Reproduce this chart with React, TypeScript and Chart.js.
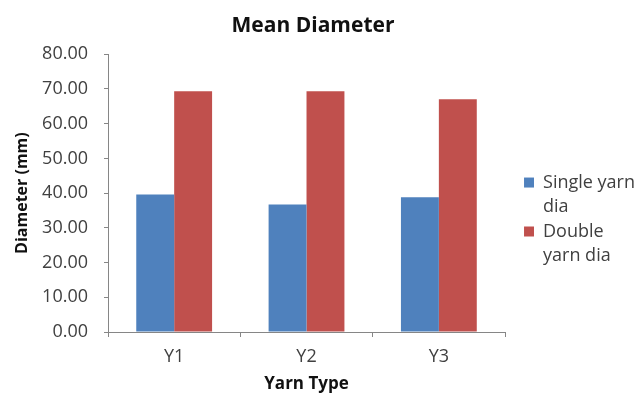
import { useEffect, useRef } from 'react';
import { Chart, registerables } from 'chart.js';

Chart.register(...registerables);

const categories = ['Y1', 'Y2', 'Y3'];
const singleYarnDia = [39.6, 36.7, 38.8];
const doubleYarnDia = [69.3, 69.3, 67.0];
const singleLabel = ['Single yarn', 'dia'];
const doubleLabel = ['Double', 'yarn dia'];
const chartTitle = 'Mean Diameter';
const xTitle = 'Yarn Type';
const yTitle = 'Diameter (mm)';
const yMin = 0;
const yMax = 80;
const yStep = 10;

const FONT = "'Open Sans', sans-serif";
const AXIS_COLOR = '#868686';
const TICK_COLOR = '#404040';

const legendShift = {
  id: 'legendShift',
  afterLayout(chart: any) {
    const l = chart.legend;
    if (!l) return;
    const dx = 19;
    const dy = 24;
    l.left += dx;
    l.right += dx;
    l.top += dy;
    l.bottom += dy;
  },
};

export default function App() {
  const ref = useRef<HTMLCanvasElement>(null);

  useEffect(() => {
    document.body.style.margin = '0';
    const chart = new Chart(ref.current as HTMLCanvasElement, {
      type: 'bar',
      data: {
        labels: categories,
        datasets: [
          {
            label: singleLabel as any,
            data: singleYarnDia,
            backgroundColor: '#4F81BD',
            borderWidth: 0,
            categoryPercentage: 0.573,
            barPercentage: 1,
          },
          {
            label: doubleLabel as any,
            data: doubleYarnDia,
            backgroundColor: '#C0504D',
            borderWidth: 0,
            categoryPercentage: 0.573,
            barPercentage: 1,
          },
        ],
      },
      options: {
        responsive: false,
        animation: false,
        devicePixelRatio: 1,
        layout: { padding: { left: 0, right: 13, top: 0, bottom: 0 } },
        plugins: {
          title: {
            display: true,
            text: chartTitle,
            color: '#111',
            font: { family: FONT, size: 21, weight: 'bold', lineHeight: 1.2 },
            padding: { top: 13, bottom: 16 },
          },
          legend: {
            display: true,
            position: 'right',
            align: 'center',
            labels: {
              boxWidth: 10,
              boxHeight: 10,
              padding: 0,
              color: TICK_COLOR,
              font: { family: FONT, size: 18, lineHeight: 1.36 },
            },
          },
          tooltip: { enabled: false },
        },
        scales: {
          x: {
            afterFit: (s: any) => {
              s.height = 65;
            },
            grid: {
              display: true,
              drawOnChartArea: false,
              drawTicks: true,
              tickLength: 5,
              color: AXIS_COLOR,
              offset: true,
            },
            border: { display: true, color: AXIS_COLOR, width: 1 },
            ticks: {
              color: TICK_COLOR,
              padding: 9,
              font: { family: FONT, size: 18 },
            },
            title: {
              display: true,
              text: xTitle,
              color: '#111',
              font: { family: FONT, size: 17, weight: 'bold', lineHeight: 1.2 },
              padding: { top: 0, bottom: 3 },
            },
          },
          y: {
            min: yMin,
            max: yMax,
            afterFit: (s: any) => {
              s.width = 108;
            },
            grid: {
              display: true,
              drawOnChartArea: false,
              drawTicks: true,
              tickLength: 4,
              color: AXIS_COLOR,
            },
            border: { display: true, color: AXIS_COLOR, width: 1 },
            ticks: {
              stepSize: yStep,
              color: TICK_COLOR,
              padding: 16,
              font: { family: FONT, size: 18 },
              callback: (v: any) => Number(v).toFixed(2),
            },
            title: {
              display: true,
              text: yTitle,
              color: '#111',
              font: { family: FONT, size: 16, weight: 'bold', lineHeight: 1.2 },
              padding: { top: 13, bottom: 0 },
            },
          },
        },
      },
      plugins: [legendShift],
    });
    return () => chart.destroy();
  }, []);

  return (
    <div style={{ width: 639, height: 397 }}>
      <canvas ref={ref} width={639} height={397} style={{ display: 'block' }} />
    </div>
  );
}
